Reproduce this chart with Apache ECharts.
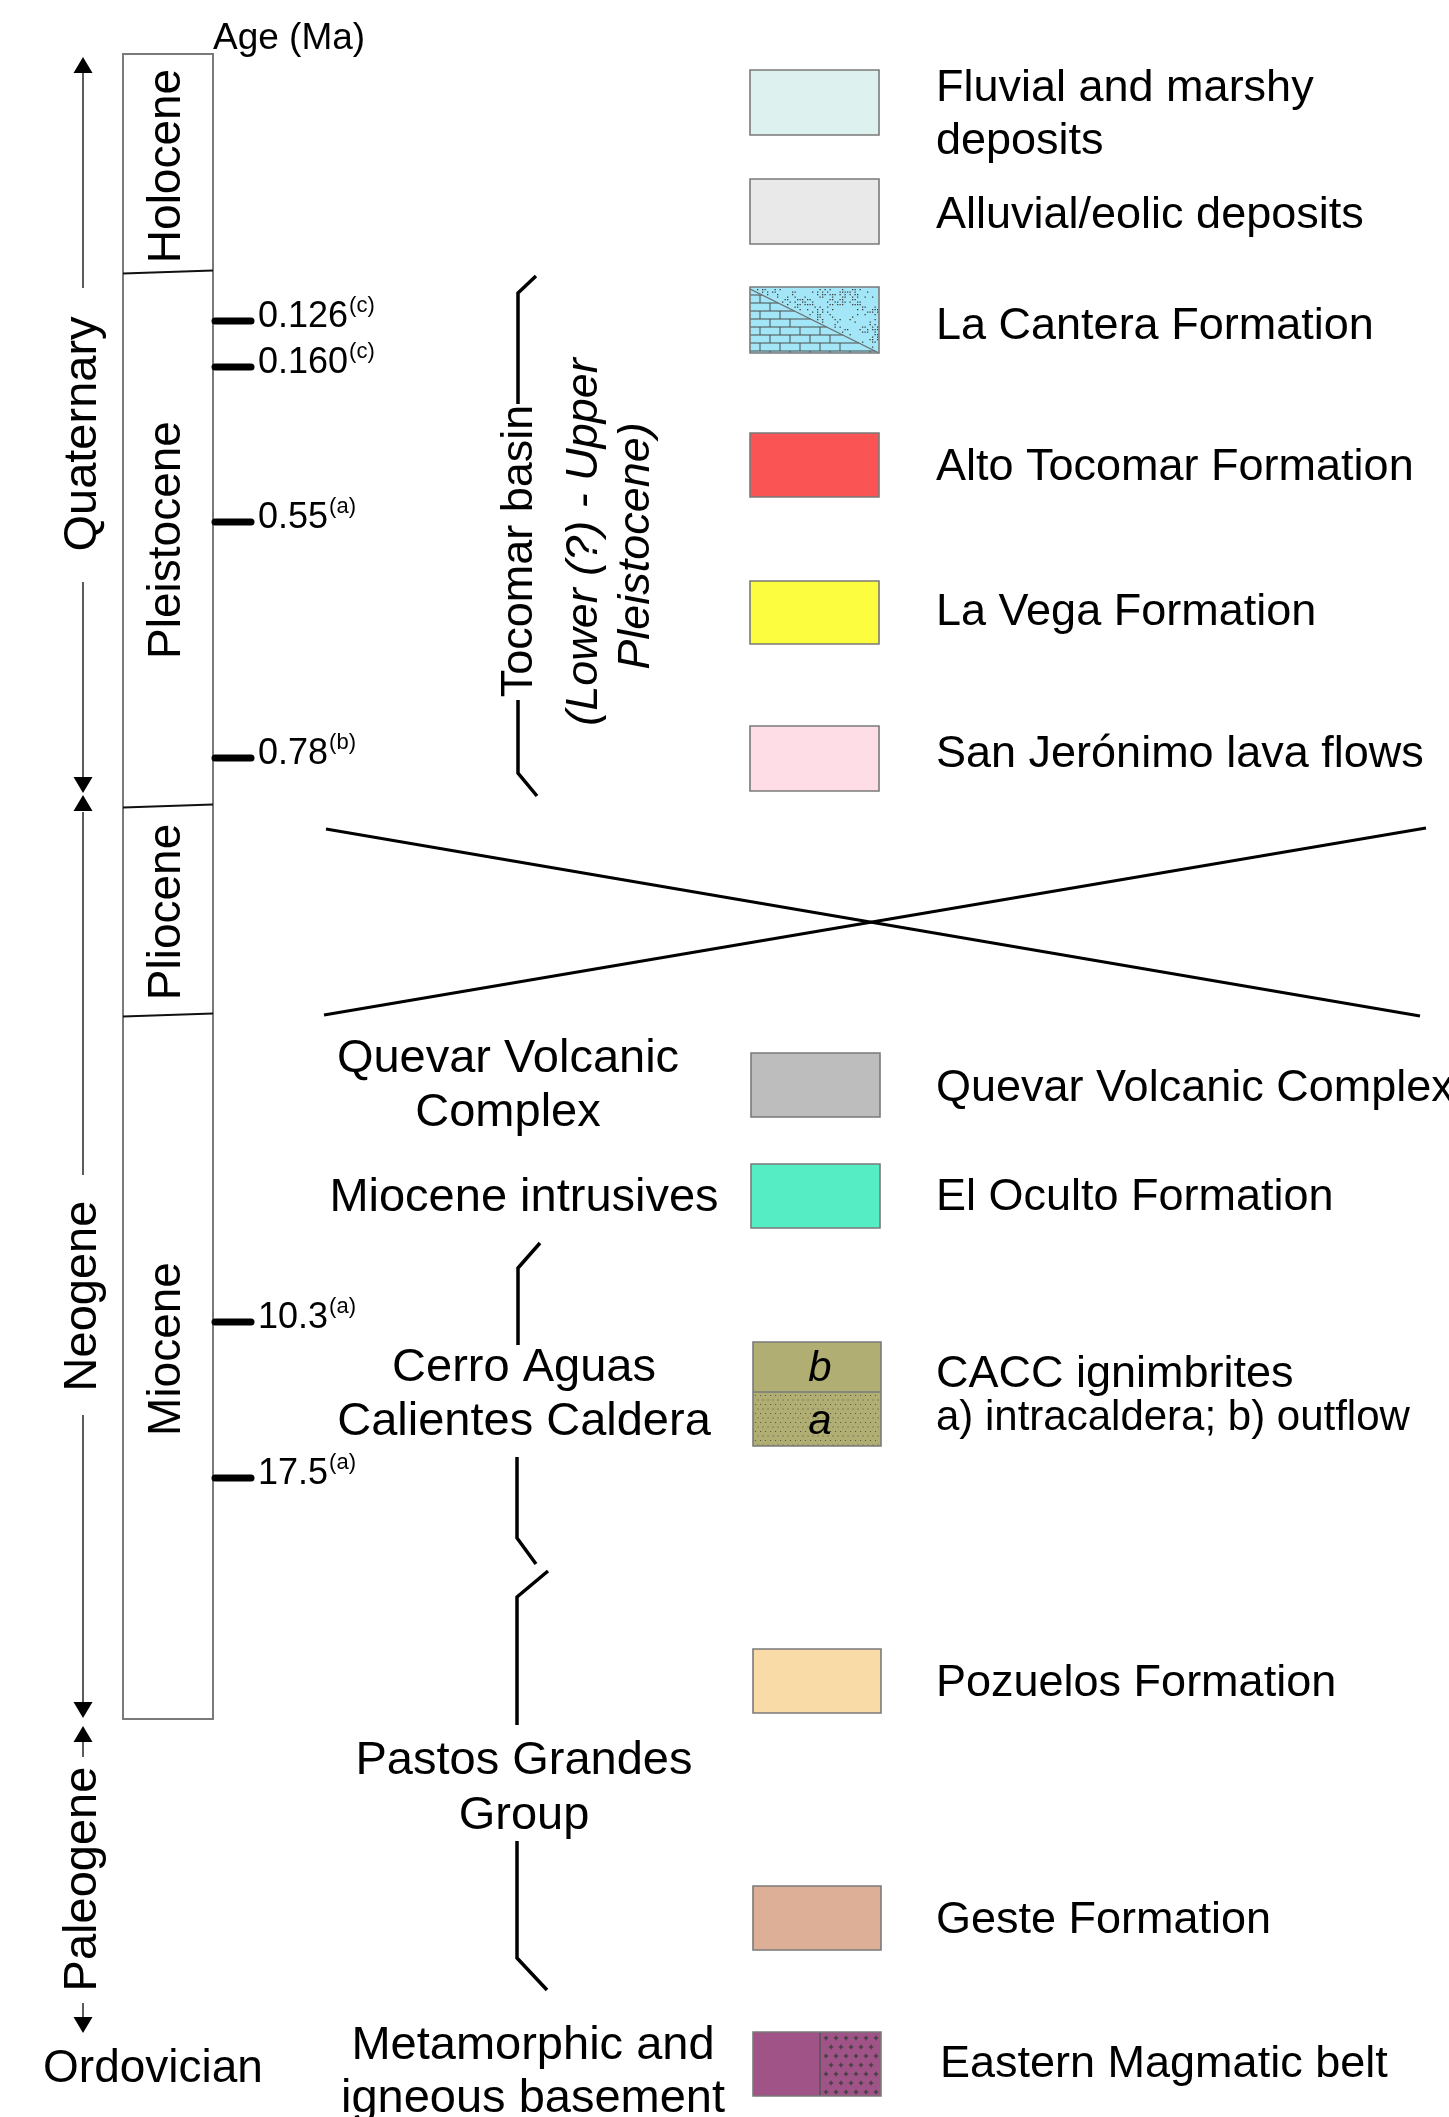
<!DOCTYPE html>
<html><head><meta charset="utf-8">
<script src="https://cdn.jsdelivr.net/npm/echarts/dist/echarts.min.js"></script>
<style>html,body{margin:0;padding:0;background:#fff;}#c{width:1449px;height:2117px;}</style>
</head><body><div id="c"></div><script>
// ---------------- DATA ----------------
const axisTitle = 'Age (Ma)';
const epochNames = ['Holocene', 'Pleistocene', 'Pliocene', 'Miocene'];
const periodNames = ['Quaternary', 'Neogene', 'Paleogene'];
const basementAge = 'Ordovician';
const ageTickValues = [0.126, 0.160, 0.55, 0.78, 10.3, 17.5];
const ageTickLabels = ['0.126', '0.160', '0.55', '0.78', '10.3', '17.5'];
const ageTickRefs = ['(c)', '(c)', '(a)', '(b)', '(a)', '(a)'];
const basinName = 'Tocomar basin';
const basinAge = ['(Lower (?) - Upper', 'Pleistocene)'];
const unitNames = [
  ['Quevar Volcanic', 'Complex'],
  ['Miocene intrusives'],
  ['Cerro Aguas', 'Calientes Caldera'],
  ['Pastos Grandes', 'Group'],
  ['Metamorphic and', 'igneous basement']
];
const legendNames = [
  ['Fluvial and marshy', 'deposits'],
  ['Alluvial/eolic deposits'],
  ['La Cantera Formation'],
  ['Alto Tocomar Formation'],
  ['La Vega Formation'],
  ['San Jerónimo lava flows'],
  ['Quevar Volcanic Complex'],
  ['El Oculto Formation'],
  ['CACC ignimbrites', 'a) intracaldera; b) outflow'],
  ['Pozuelos Formation'],
  ['Geste Formation'],
  ['Eastern Magmatic belt']
];
const legendColors = ['#ddf1ef', '#e9e9e9', '#a2e6f7', '#fb5454', '#fdfd40', '#ffdde6',
  '#bdbdbd', '#55edc4', '#b1ae74', '#f8dba6', '#ddaf96', '#a05387'];
const caccParts = ['b', 'a'];

// ---------------- LAYOUT (diagram units) ----------------
const FONT = 'Liberation Sans, Arial, Helvetica, sans-serif';
const COL = { x0: 123, x1: 213, bottom: 1719 };
const epochTop = [54, 272, 806, 1015];
const epochLabelY = [166, 540, 912, 1349];
const tickY = [321, 367, 522, 758, 1322, 1478];
const periodLayout = [
  { up: 57, segs: [[73, 288], [582, 777]], down: 793, label: 434 },
  { up: 795, segs: [[812, 1175], [1415, 1702]], down: 1718, label: 1296 },
  { up: 1726, segs: [[1742, 1757], [2003, 2017]], down: 2033, label: 1879 }
];
const ARROW_X = 83;
const bracketLines = [
  [[536, 276], [518, 293], [518, 404]],
  [[518, 700], [518, 773], [537, 796]],
  [[540, 1243], [518, 1268], [518, 1345]],
  [[517, 1457], [517, 1538], [536, 1564]],
  [[548, 1571], [517, 1597], [517, 1725]],
  [[517, 1841], [517, 1958], [547, 1990]]
];
const crossLines = [[[326, 829], [1420, 1016]], [[324, 1015], [1426, 828]]];
const unitLayout = [
  { x: 508, y: [1059, 1113] },
  { x: 524, y: [1198] },
  { x: 524, y: [1368, 1422] },
  { x: 524, y: [1761, 1816] },
  { x: 533, y: [2046, 2099] }
];
const legendBox = [
  [750, 70, 879, 135], [750, 179, 879, 244], [750, 287, 879, 353], [750, 433, 879, 497],
  [750, 581, 879, 644], [750, 726, 879, 791], [751, 1053, 880, 1117], [751, 1164, 880, 1228],
  [753, 1342, 881, 1446], [753, 1649, 881, 1713], [753, 1886, 881, 1950], [753, 2032, 881, 2096]
];
const legendText = [
  { x: 936, y: [89, 142], s: [45, 45] }, { x: 936, y: [216], s: [45] }, { x: 936, y: [327], s: [45] },
  { x: 936, y: [468], s: [45] }, { x: 936, y: [613], s: [45] }, { x: 936, y: [755], s: [45] },
  { x: 936, y: [1089], s: [45] }, { x: 936, y: [1198], s: [45] }, { x: 936, y: [1375, 1418], s: [45, 42] },
  { x: 936, y: [1684], s: [45] }, { x: 936, y: [1921], s: [45] }, { x: 940, y: [2065], s: [45] }
];
const legendPattern = ['', '', 'cantera', '', '', '', '', '', 'cacc', '', '', 'belt'];

// ---------------- helpers ----------------
const measureCtx = document.createElement('canvas').getContext('2d');
function textWidth(t, size) { measureCtx.font = size + 'px ' + FONT; return measureCtx.measureText(t).width; }
function P(api, x, y) { return api.coord([x, y]); }
function ln(a, b, w, color, cap) {
  return { type: 'line', shape: { x1: a[0], y1: a[1], x2: b[0], y2: b[1] },
    style: { stroke: color || '#000', lineWidth: w || 3, lineCap: cap || 'butt' } };
}
function pl(pts, w, color) {
  return { type: 'polyline', shape: { points: pts }, style: { stroke: color || '#000', lineWidth: w, fill: null, lineJoin: 'miter' } };
}
function tx(p, text, size, o) {
  o = o || {};
  return { type: 'text', x: p[0], y: p[1], rotation: o.rot || 0,
    style: { text: text, x: 0, y: 0, fill: '#000', fontSize: size, fontFamily: FONT,
      fontStyle: o.italic ? 'italic' : 'normal', align: o.align || 'center', verticalAlign: 'middle' } };
}
function rect(a, b, fill, stroke, w) {
  return { type: 'rect', shape: { x: a[0], y: a[1], width: b[0] - a[0], height: b[1] - a[1] },
    style: { fill: fill, stroke: stroke || null, lineWidth: w || 0 } };
}
function hash(x, y) { const h = Math.sin(x * 12.9898 + y * 78.233) * 43758.5453; return h - Math.floor(h); }
const ROT = Math.PI / 2;

// ---------------- series ----------------
const epochSeries = {
  type: 'custom', name: 'epochs', coordinateSystem: 'cartesian2d', silent: true,
  data: epochNames.map((n, i) => ({ name: n, value: [COL.x0, epochTop[i]] })),
  renderItem: function (params, api) {
    const i = params.dataIndex;
    const top = epochTop[i], bot = i < epochTop.length - 1 ? epochTop[i + 1] : COL.bottom;
    const ch = [];
    ch.push(ln(P(api, COL.x0, top), P(api, COL.x0, bot), 2, '#7a7a7a'));
    ch.push(ln(P(api, COL.x1, top), P(api, COL.x1, bot), 2, '#7a7a7a'));
    if (i === 0) {
      ch.push(ln(P(api, COL.x0 - 1, top), P(api, COL.x1 + 1, top), 2, '#7a7a7a'));
      ch.push(tx(P(api, 213, 39), axisTitle, 37, { align: 'left' }));
    } else {
      ch.push(ln(P(api, COL.x0, top + 1.5), P(api, COL.x1, top - 1.5), 2, '#111'));
    }
    if (i === epochTop.length - 1) ch.push(ln(P(api, COL.x0 - 1, bot), P(api, COL.x1 + 1, bot), 2, '#7a7a7a'));
    ch.push(tx(P(api, 167, epochLabelY[i]), epochNames[i], 46, { rot: ROT }));
    return { type: 'group', children: ch };
  }
};

const tickSeries = {
  type: 'custom', name: 'ages', coordinateSystem: 'cartesian2d', silent: true,
  data: ageTickValues.map((v, i) => ({ name: ageTickLabels[i], value: [COL.x1, v] })),
  renderItem: function (params, api) {
    const i = params.dataIndex, y = tickY[i];
    const w = textWidth(ageTickLabels[i], 36);
    return { type: 'group', children: [
      ln(P(api, 215, y), P(api, 251, y), 7, '#000', 'round'),
      tx(P(api, 258, y - 4), ageTickLabels[i], 36, { align: 'left' }),
      tx(P(api, 258 + w + 1, y - 15), ageTickRefs[i], 22, { align: 'left' })
    ] };
  }
};

function arrowHead(api, tipY, dir) {
  const t = P(api, ARROW_X, tipY), l = P(api, ARROW_X - 9.5, tipY - dir * 16), r = P(api, ARROW_X + 9.5, tipY - dir * 16);
  return { type: 'polygon', shape: { points: [t, l, r] }, style: { fill: '#000' } };
}
const periodSeries = {
  type: 'custom', name: 'periods', coordinateSystem: 'cartesian2d', silent: true,
  data: periodNames.map((n, i) => ({ name: n, value: [ARROW_X, periodLayout[i].label] })),
  renderItem: function (params, api) {
    const i = params.dataIndex, L = periodLayout[i];
    const ch = [arrowHead(api, L.up, -1), arrowHead(api, L.down, 1)];
    L.segs.forEach(s => ch.push(ln(P(api, ARROW_X, s[0]), P(api, ARROW_X, s[1]), 1.6, '#333')));
    ch.push(tx(P(api, ARROW_X, L.label), periodNames[i], 47, { rot: ROT }));
    if (i === periodNames.length - 1) ch.push(tx(P(api, 153, 2069), basementAge, 46));
    return { type: 'group', children: ch };
  }
};

const bracketSeries = {
  type: 'custom', name: 'brackets', coordinateSystem: 'cartesian2d', silent: true,
  data: bracketLines.map((b, i) => ({ value: [b[0][0], b[0][1]] })),
  renderItem: function (params, api) {
    const b = bracketLines[params.dataIndex];
    const ch = [pl(b.map(p => P(api, p[0], p[1])), 3.5, '#000')];
    if (params.dataIndex === 0) {
      ch.push(tx(P(api, 520, 551), basinName, 45, { rot: ROT }));
      ch.push(tx(P(api, 584, 542), basinAge[0], 45, { rot: ROT, italic: true }));
      ch.push(tx(P(api, 636, 546), basinAge[1], 45, { rot: ROT, italic: true }));
    }
    return { type: 'group', children: ch };
  }
};

const crossSeries = {
  type: 'custom', name: 'unconformity', coordinateSystem: 'cartesian2d', silent: true,
  data: crossLines.map(c => ({ value: [c[0][0], c[0][1]] })),
  renderItem: function (params, api) {
    const c = crossLines[params.dataIndex];
    return ln(P(api, c[0][0], c[0][1]), P(api, c[1][0], c[1][1]), 3, '#000');
  }
};

const unitSeries = {
  type: 'custom', name: 'units', coordinateSystem: 'cartesian2d', silent: true,
  data: unitNames.map((u, i) => ({ name: u.join(' '), value: [unitLayout[i].x, unitLayout[i].y[0]] })),
  renderItem: function (params, api) {
    const i = params.dataIndex, L = unitLayout[i];
    return { type: 'group', children: unitNames[i].map((t, k) => tx(P(api, L.x, L.y[k]), t, 47)) };
  }
};

function patternCantera(api, b) {
  const [x0, y0, x1, y1] = b, ch = [];
  const yd = x => y0 + 2 + (x - x0) * (y1 - y0 - 2) / (x1 - x0);
  const xd = y => x0 + (y - y0 - 2) * (x1 - x0) / (y1 - y0 - 2);
  let k = 0;
  for (let y = y0 + 8; y < y1; y += 8, k++) {
    ch.push(ln(P(api, x0, y), P(api, Math.min(x1, xd(y)), y), 1, '#4d4d4d'));
    const yb = Math.min(y + 8, y1);
    for (let x = x0 + 10 + (k % 2) * 10; x < x1; x += 20) {
      if (x < xd(y) - 1) ch.push(ln(P(api, x, y), P(api, x, yb), 1, '#4d4d4d'));
    }
  }
  for (let y = y0 + 2; y < y1 - 1; y += 2.5) {
    for (let x = x0 + 2; x < x1 - 1.5; x += 2.5) {
      if (y < yd(x) - 3) {
        const cx = Math.floor(x / 11), cy = Math.floor(y / 9);
        const ring = Math.abs(((x - cx * 11) - 5.5)) + Math.abs(((y - cy * 9) - 4.5));
        const on = (ring > 2.5 && ring < 5 && hash(cx, cy) > 0.35) || hash(x, y) > 0.88;
        if (on) ch.push(rect(P(api, x, y), P(api, x + 1.3, y + 1.3), '#3f3f3f'));
      }
    }
  }
  ch.push(ln(P(api, x0, y0 + 2), P(api, x1, y1), 1.2, '#6a6a6a'));
  return ch;
}
function patternCacc(api, b) {
  const [x0, y0, x1, y1] = b, mid = (y0 + y1) / 2 - 2, ch = [];
  let r = 0;
  for (let y = mid + 3; y < y1 - 1; y += 4.5, r++) {
    for (let x = x0 + 2 + (r % 2) * 2.5; x < x1 - 1; x += 5) ch.push(rect(P(api, x, y), P(api, x + 1.1, y + 1.1), '#5a5a40'));
  }
  ch.push(ln(P(api, x0, mid), P(api, x1, mid), 1.5, '#7a7a7a'));
  ch.push(tx(P(api, 820, (y0 + mid) / 2 + 2), caccParts[0], 42, { italic: true }));
  ch.push(tx(P(api, 820, (mid + y1) / 2 + 3), caccParts[1], 42, { italic: true }));
  return ch;
}
function patternBelt(api, b) {
  const [x0, y0, x1, y1] = b, xs = 820, ch = [];
  let r = 0;
  for (let y = y0 + 6; y < y1 - 3; y += 9, r++) {
    for (let x = xs + 6 + (r % 2) * 5; x < x1 - 3; x += 10) {
      ch.push(ln(P(api, x - 2.2, y), P(api, x + 2.2, y), 1.3, '#3f3f3f'));
      ch.push(ln(P(api, x, y - 2.2), P(api, x, y + 2.2), 1.3, '#3f3f3f'));
    }
  }
  ch.push(ln(P(api, xs, y0), P(api, xs, y1), 1.5, '#555'));
  return ch;
}

const legendSeries = {
  type: 'custom', name: 'legend', coordinateSystem: 'cartesian2d', silent: true,
  data: legendNames.map((n, i) => ({ name: n.join(' '), value: [legendBox[i][0], legendBox[i][1]] })),
  renderItem: function (params, api) {
    const i = params.dataIndex, b = legendBox[i];
    const a = P(api, b[0], b[1]), c = P(api, b[2], b[3]);
    const ch = [rect(a, c, legendColors[i])];
    if (legendPattern[i] === 'cantera') ch.push(...patternCantera(api, b));
    if (legendPattern[i] === 'cacc') ch.push(...patternCacc(api, b));
    if (legendPattern[i] === 'belt') ch.push(...patternBelt(api, b));
    ch.push(rect(a, c, null, '#7a7a7a', 1.6));
    const T = legendText[i];
    legendNames[i].forEach((t, k) => ch.push(tx(P(api, T.x, T.y[k]), t, T.s[k], { align: 'left' })));
    return { type: 'group', children: ch };
  }
};

const chart = echarts.init(document.getElementById('c'), null, { renderer: 'canvas', width: 1449, height: 2117 });
chart.setOption({
  backgroundColor: '#ffffff',
  animation: false,
  grid: { left: 0, right: 0, top: 0, bottom: 0 },
  xAxis: { type: 'value', min: 0, max: 1449, show: false },
  yAxis: { type: 'value', min: 0, max: 2117, inverse: true, show: false },
  series: [epochSeries, tickSeries, periodSeries, crossSeries, bracketSeries, unitSeries, legendSeries]
});
</script></body></html>
